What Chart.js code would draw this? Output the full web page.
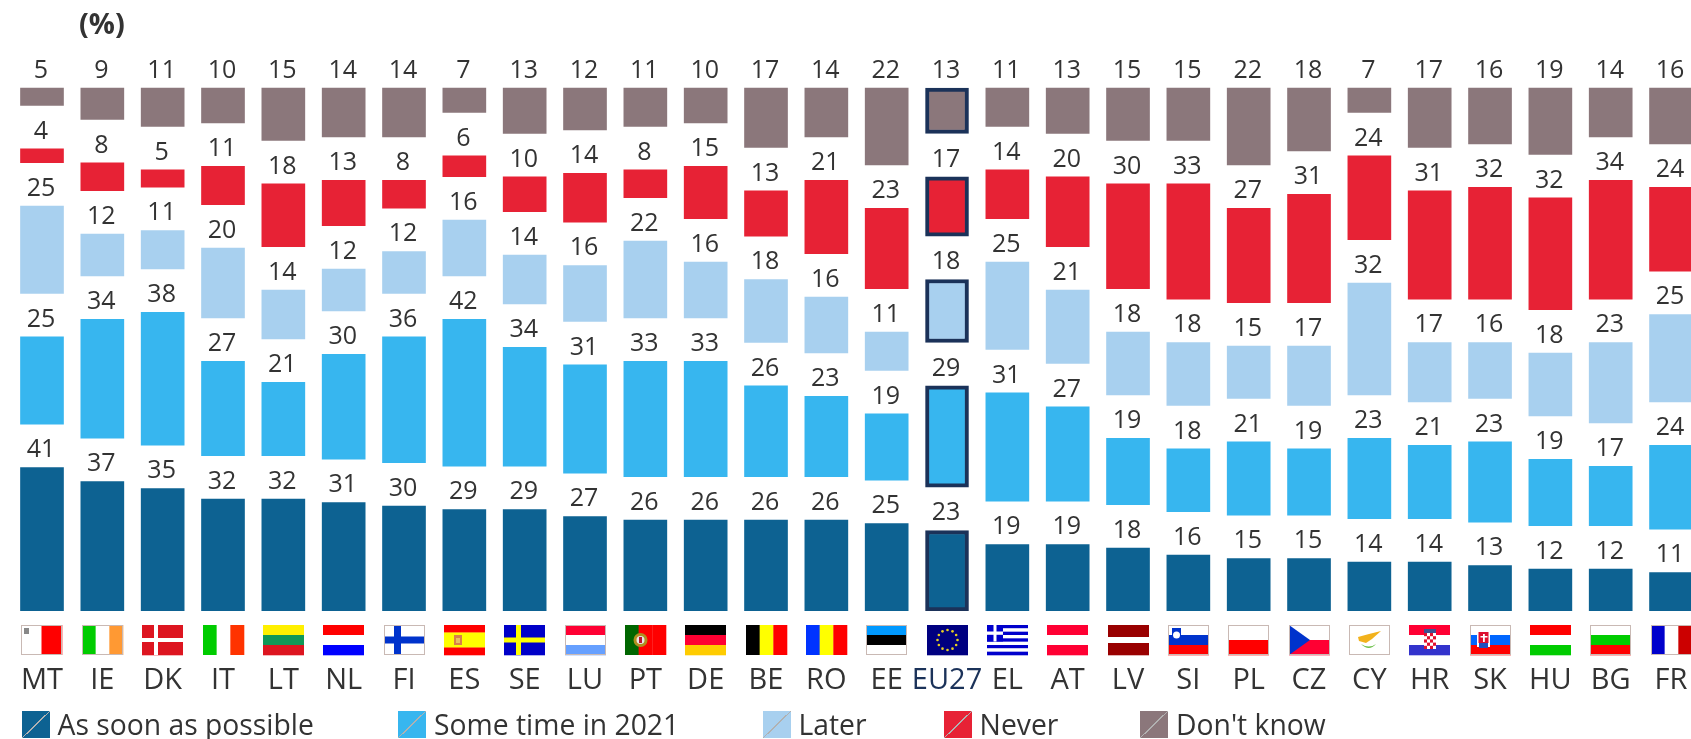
<!DOCTYPE html>
<html>
<head>
<meta charset="utf-8">
<style>
html,body{margin:0;padding:0;width:1691px;height:739px;overflow:hidden;background:#fff}
#wrap{position:absolute;left:0;top:0;width:1702px;height:739px}
#legend{position:absolute;left:0;top:711px;width:1691px;height:28px;font:28.3px "Open Sans",sans-serif;color:#333;line-height:27px;white-space:nowrap}
.item{position:absolute;top:0;display:flex;align-items:center;gap:8px}
.sw{display:inline-block;width:28px;height:27px}
</style>
<script src="https://cdn.jsdelivr.net/npm/chart.js@4"></script>
</head>
<body>
<div id="wrap"><canvas id="c" width="1702" height="739"></canvas></div>
<div id="legend"></div>
<script>
const categories=["MT","IE","DK","IT","LT","NL","FI","ES","SE","LU","PT","DE","BE","RO","EE","EU27","EL","AT","LV","SI","PL","CZ","CY","HR","SK","HU","BG","FR"];
const asSoonAsPossible=[41,37,35,32,32,31,30,29,29,27,26,26,26,26,25,23,19,19,18,16,15,15,14,14,13,12,12,11];
const someTimeIn2021=[25,34,38,27,21,30,36,42,34,31,33,33,26,23,19,29,31,27,19,18,21,19,23,21,23,19,17,24];
const later=[25,12,11,20,14,12,12,16,14,16,22,16,18,16,11,18,25,21,18,18,15,17,32,17,16,18,23,25];
const never=[4,8,5,11,18,13,8,6,10,14,8,15,13,21,23,17,14,20,30,33,27,31,24,31,32,32,34,24];
const dontKnow=[5,9,11,10,15,14,14,7,13,12,11,10,17,14,22,13,11,13,15,15,22,18,7,17,16,19,14,16];
const seriesNames=["As soon as possible","Some time in 2021","Later","Never","Don't know"];
const seriesColors=["#0d6292","#37b6ef","#a8d0ef","#e72235","#8b777b"];
const GAP=12.36, HIGHLIGHT="EU27", NAVY="#1b3259", TEXT="#333333";
const FONT='"Open Sans", sans-serif';

const seriesValues=[asSoonAsPossible,someTimeIn2021,later,never,dontKnow];
const datasets=[];
seriesValues.forEach((vals,i)=>{
  datasets.push({label:seriesNames[i],data:vals,stack:"s",backgroundColor:seriesColors[i],
    borderColor:NAVY,borderSkipped:false,
    borderWidth:c=>categories[c.dataIndex]===HIGHLIGHT?4:0});
  if(i<seriesValues.length-1) datasets.push({label:"gap",data:categories.map(()=>GAP),stack:"s",backgroundColor:"rgba(0,0,0,0)",borderWidth:0,spacer:true});
});

// flags: [orientation, stripes]; extras are painted on top
const flagStripes={MT:["v","#fff","#f00"],IE:["v","#00cc00","#fff","#ff9933"],DK:["h","#dd1520"],IT:["v","#00cc00","#fff","#ff3300"],
LT:["h","#fff000","#109858","#dd1520"],NL:["h","#ff0000","#fff","#0000ff"],FI:["h","#fff"],ES:["h","#ff0000","#ffff00","#ffff00","#ff0000"],
SE:["h","#0000c8"],LU:["h","#ff0033","#fff","#66a0ff"],PT:["v","#006600","#ff0000","#ff0000"],DE:["h","#000","#ff0033","#ffcc00"],
BE:["v","#000","#ffff00","#ff0000"],RO:["v","#0033ff","#ffff00","#ff0000"],EE:["h","#0099ff","#000","#fff"],EU27:["h","#000080"],
EL:["h","#0000cc","#fff","#0000cc","#fff","#0000cc","#fff","#0000cc","#fff","#0000cc"],AT:["h","#ff0033","#fff","#ff0033"],LV:["h","#990000","#990000","#fff","#990000","#990000"],
SI:["h","#fff","#0033cc","#ff0000"],PL:["h","#fff","#ff0000"],CZ:["h","#fff","#ff0033"],CY:["h","#fff"],HR:["h","#ff0033","#fff","#3333cc"],
SK:["h","#fff","#0066ff","#ff0000"],HU:["h","#ff0000","#fff","#00cc00"],BG:["h","#fff","#00cc00","#ff0000"],FR:["v","#0000cc","#fff","#cc0000"]};
const outlined=["MT","IE","FI","LU","EE","SI","PL","CZ","CY","SK","BG","FR"];

function star(ctx,x,y,r,col){ctx.fillStyle=col;ctx.beginPath();ctx.arc(x,y,r,0,Math.PI*2);ctx.fill();}
function drawFlag(ctx,code,x,y,w,h){
  const s=flagStripes[code],n=s.length-1;
  for(let i=0;i<n;i++){ctx.fillStyle=s[i+1];
    if(s[0]==="h")ctx.fillRect(x,y+h*i/n,w,h/n+.3);else ctx.fillRect(x+w*i/n,y,w/n+.3,h);}
  const R=(c,a,b,ww,hh)=>{ctx.fillStyle=c;ctx.fillRect(x+a,y+b,ww,hh);};
  if(code==="DK"){R("#fff",12,0,4,h);R("#fff",0,13,w,4);}
  if(code==="FI"){R("#0033cc",10,0,7,h);R("#0033cc",0,11.5,w,7);}
  if(code==="SE"){R("#ffff00",12,0,5,h);R("#ffff00",0,12.5,w,5);}
  if(code==="MT"){R("#888",3,3,5,6);}
  if(code==="ES"){R("#d8804a",10,10,8,10);R("#e8c060",12,13,4,5);}
  if(code==="PT"){star(ctx,x+15.5,y+15,7,"#b09020");star(ctx,x+15.5,y+15,4,"#e8e8e8");R("#c01030",14,12,3,6);}
  if(code==="EL"){R("#0000cc",0,0,16,16.5);R("#fff",6.5,0,3,16.5);R("#fff",0,6.5,16,3.3);}
  if(code==="EU27"){for(let i=0;i<12;i++){const a=i*Math.PI/6;star(ctx,x+w/2+10*Math.cos(a),y+h/2+10*Math.sin(a),1.3,"#e8d020");}}
  if(code==="CZ"){ctx.fillStyle="#0033cc";ctx.beginPath();ctx.moveTo(x,y);ctx.lineTo(x+21,y+h/2);ctx.lineTo(x,y+h);ctx.fill();}
  if(code==="SI"){R("#0033cc",4,3,9,12);star(ctx,x+8.5,y+10,3.5,"#fff");}
  if(code==="SK"){R("#fff",7,6,13,16);R("#dd1030",8.5,7,10,11);R("#2050c0",9,18,9,5);R("#fff",13,9,1.8,8);R("#fff",10.5,11,7,1.5);}
  if(code==="HR"){R("#fff",15,6,12,18);for(let a=0;a<4;a++)for(let b=0;b<5;b++)if((a+b)%2===0)R("#e01030",15+a*3,8+b*3.2,3,3.2);R("#405090",15,4,12,4);}
  if(code==="CY"){ctx.fillStyle="#f2b21c";ctx.beginPath();ctx.moveTo(x+9,y+12);ctx.lineTo(x+20,y+9);ctx.lineTo(x+32,y+6);ctx.lineTo(x+23,y+14);ctx.lineTo(x+17,y+18);ctx.lineTo(x+10,y+16);ctx.fill();
    ctx.fillStyle="#6cc04a";ctx.beginPath();ctx.moveTo(x+12,y+19);ctx.quadraticCurveTo(x+20,y+27,x+27,y+19);ctx.quadraticCurveTo(x+20,y+24,x+12,y+19);ctx.fill();}
  if(outlined.includes(code)){ctx.strokeStyle="#c9b9b4";ctx.lineWidth=1;ctx.strokeRect(x+.5,y+.5,w-1,h-1);}
}

const decorations={id:"decorations",
  afterDatasetsDraw(chart){
    const ctx=chart.ctx,xs=chart.scales.x;
    ctx.save();
    ctx.font='25px '+FONT;ctx.fillStyle=TEXT;ctx.textAlign="center";ctx.textBaseline="alphabetic";
    chart.data.datasets.forEach((d,di)=>{
      if(d.spacer)return;
      chart.getDatasetMeta(di).data.forEach((el,i)=>{
        ctx.fillText(String(d.data[i]),el.x-1,el.y-10);
      });
    });
    categories.forEach((c,i)=>drawFlag(ctx,c,Math.round(xs.getPixelForValue(i)-20.5),625,41,30));
    ctx.font='bold 29px '+FONT;ctx.textAlign="left";ctx.fillStyle=TEXT;
    ctx.fillText("(%)",79,34);
    ctx.restore();
  }};

new Chart(document.getElementById("c"),{
  type:"bar",
  data:{labels:categories,datasets},
  plugins:[decorations],
  options:{
    responsive:false,animation:false,
    layout:{padding:{left:11.83,right:0.8,top:0,bottom:0}},
    datasets:{bar:{barThickness:43}},
    plugins:{legend:{display:false},title:{display:false},tooltip:{enabled:false}},
    scales:{
      x:{stacked:true,grid:{display:false,drawTicks:false},border:{display:false},
        afterFit:s=>{s.height=128;s.paddingLeft=0;s.paddingRight=0;},
        ticks:{autoSkip:false,maxRotation:0,minRotation:0,padding:52,font:{family:FONT,size:29},
          color:c=>categories[c.index]===HIGHLIGHT?NAVY:TEXT}},
      y:{display:false,stacked:true,min:0,max:174.57}
    }
  }
});

// legend built from the series
const lg=document.getElementById("legend");
const legendOffsets=[21.5,398,762.5,943.6,1140];
seriesNames.forEach((n,i)=>{
  const it=document.createElement("div");it.className="item";it.style.left=legendOffsets[i]+"px";
  const sw=document.createElement("span");sw.className="sw";
  sw.style.background="linear-gradient(to top left,"+seriesColors[i]+" 48.5%,rgba(60,60,60,.4) 48.5%,rgba(60,60,60,.4) 51.5%,"+seriesColors[i]+" 51.5%)";
  const t=document.createElement("span");t.textContent=n;
  it.append(sw,t);lg.append(it);
});
</script>
</body>
</html>
